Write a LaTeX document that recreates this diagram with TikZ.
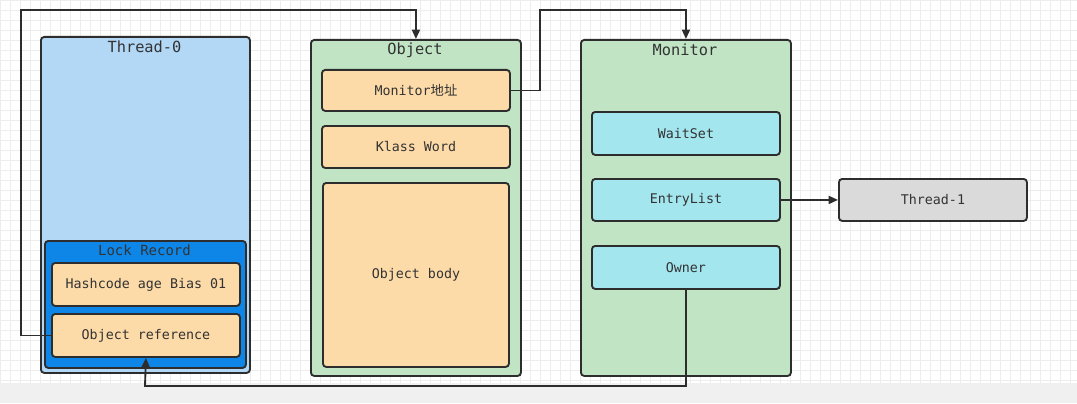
\documentclass[tikz,border=0pt]{standalone}
\usepackage{fontspec}
\setmainfont{DejaVu Sans Mono}
\newfontfamily\cjk{Noto Sans CJK SC}
\usetikzlibrary{arrows.meta}
\definecolor{strk}{HTML}{2D2D2D}
\definecolor{thr}{HTML}{B2D8F6}
\definecolor{lockc}{HTML}{0D86E8}
\definecolor{grn}{HTML}{C0E4C4}
\definecolor{org}{HTML}{FDDBA9}
\definecolor{cyn}{HTML}{A3E6EE}
\definecolor{gry}{HTML}{DADADA}
\definecolor{gridc}{HTML}{EDEDED}
\definecolor{strip}{HTML}{F0F0F0}
\definecolor{txt}{HTML}{333333}
\def\u{0.75pt}
\tikzset{
  box/.style={draw=strk, line width=1.4pt, rounded corners=2.5pt, anchor=north west, inner sep=0pt, text=txt, font=\fontsize{10}{12}\selectfont},
  ttl/.style={text=txt, font=\fontsize{11.5}{13}\selectfont, inner sep=0pt},
  conn/.style={draw=strk, line width=1.4pt},
  arr/.style={conn, -{Triangle[length=7pt,width=6pt]}},
  gridline/.style={draw=gridc, line width=0.45pt},
}
\begin{document}
\begin{tikzpicture}[x=0.75pt, y=-0.75pt]
\useasboundingbox (0,0) rectangle (1077,403);
% background grid and strip
\foreach \gx in {0,10,...,1070} \draw[gridline] (\gx,0) -- (\gx,383);
\foreach \gy in {0,10,...,380} \draw[gridline] (0,\gy) -- (1077,\gy);
\fill[strip] (0,383) rectangle (1077,403);
% Thread-0
\node[box, fill=thr, minimum width={209*\u}, minimum height={336*\u}] (t0) at (40,36) {};
\node[ttl] (t0t) at (144.5,47) {Thread-0};
\node[box, fill=lockc, minimum width={201*\u}, minimum height={127*\u}] (lr) at (44,240) {};
\node[ttl, font=\fontsize{10.5}{12}\selectfont] (lrt) at (144.5,250) {Lock Record};
\node[box, fill=org, minimum width={188*\u}, minimum height={43*\u}] (hash) at (51,262) {Hashcode age Bias 01};
\node[box, fill=org, minimum width={188*\u}, minimum height={43*\u}] (objref) at (51,313) {Object reference};
% Object
\node[box, fill=grn, minimum width={210*\u}, minimum height={336*\u}] (obj) at (310,39) {};
\node[ttl] (objt) at (415,50) {Object};
\node[box, fill=org, minimum width={188*\u}, minimum height={41*\u}] (maddr) at (321,69) {Monitor{\cjk 地址}};
\node[box, fill=org, minimum width={188*\u}, minimum height={42*\u}] (klass) at (321,125) {Klass Word};
\node[box, fill=org, minimum width={186*\u}, minimum height={184*\u}] (body) at (322,182) {Object body};
% Monitor
\node[box, fill=grn, minimum width={210*\u}, minimum height={336*\u}] (mon) at (580,39) {};
\node[ttl] (mont) at (685,50) {Monitor};
\node[box, fill=cyn, minimum width={188*\u}, minimum height={43*\u}] (wait) at (591,111) {WaitSet};
\node[box, fill=cyn, minimum width={188*\u}, minimum height={42*\u}] (entry) at (591,178) {EntryList};
\node[box, fill=cyn, minimum width={188*\u}, minimum height={43*\u}] (owner) at (591,245) {Owner};
% Thread-1
\node[box, fill=gry, minimum width={188*\u}, minimum height={42*\u}] (t1) at (838,178) {Thread-1};
% connectors
\coordinate (c1) at (21,10);
\coordinate (c2) at (540,10);
\coordinate (c3) at (145,386);
\draw[arr] (objref.west) -| (c1) -| (obj.north);
\draw[arr] (maddr.east) -| (c2) -| (mon.north);
\draw[arr] (entry.east) -- (t1.west);
\draw[arr] (owner.south) |- (c3) -- (objref.south);
\end{tikzpicture}
\end{document}
